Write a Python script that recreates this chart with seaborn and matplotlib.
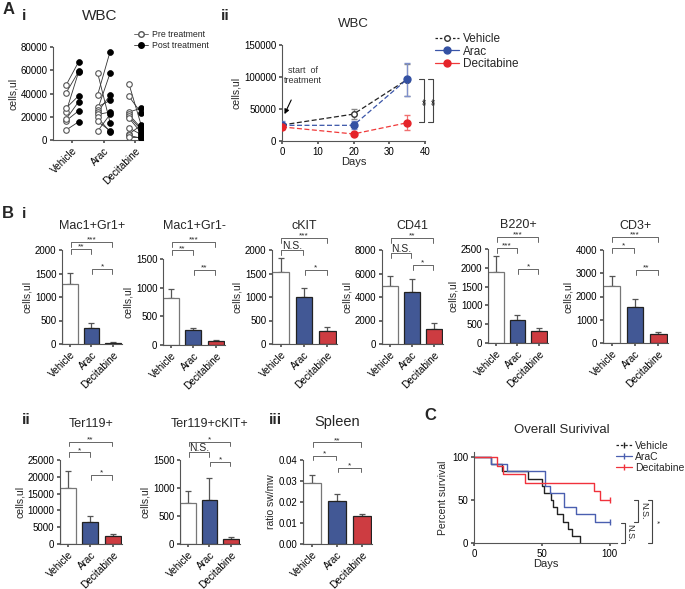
import numpy as np
import pandas as pd
import matplotlib
matplotlib.use("Agg")
import matplotlib.pyplot as plt
import seaborn as sns
from matplotlib.lines import Line2D

sns.set_theme(style="ticks")
plt.rcParams['font.family'] = ['Liberation Sans', 'DejaVu Sans']
plt.rcParams['axes.linewidth'] = 0.8
plt.rcParams['axes.edgecolor'] = '#555555'
plt.rcParams['xtick.color'] = '#555555'
plt.rcParams['ytick.color'] = '#555555'
plt.rcParams['xtick.labelcolor'] = 'black'
plt.rcParams['ytick.labelcolor'] = 'black'
plt.rcParams['xtick.major.size'] = 2.5
plt.rcParams['ytick.major.size'] = 2.5
plt.rcParams['xtick.major.pad'] = 1.5
plt.rcParams['ytick.major.pad'] = 1.5

# ---------------- data ----------------
groups = ["Vehicle", "Arac", "Decitabine"]
bar_colors = ["white", "#3451A3", "#E5242A"]

# A i: paired WBC, pre vs post treatment
veh_pre = [8600, 16600, 18100, 24400, 27500, 40700, 47300]
veh_post = [15700, 25200, 33000, 58800, 38100, 59000, 67400]
arac_pre = [58000, 38500, 28500, 26000, 24000, 22000, 19500, 16000, 7500]
arac_post = [15000, 76000, 34000, 57500, 38500, 24000, 7000, 8000, 22000]
dec_pre = [48500, 37500, 24000, 22000, 20500, 19000, 10500, 5000, 4000, 3000]
dec_post = [12000, 23000, 27500, 10000, 8500, 6000, 4500, 13000, 1500, 3000]

# A ii: WBC over time
days = [0, 20, 35]
wbc_veh = [25000, 42000, 96000]
wbc_veh_err = [3000, 7500, 25000]
wbc_arac = [24500, 24500, 96500]
wbc_arac_err = [6000, 6000, 26000]
wbc_dec = [22000, 11000, 28500]
wbc_dec_err = [3000, 2000, 11500]

# B: bar panels (mean, upper error)
mac_pos = [1280, 340, 20]
mac_pos_err = [240, 110, 12]
mac_neg = [820, 255, 65]
mac_neg_err = [160, 45, 15]
ckit = [1530, 990, 270]
ckit_err = [310, 200, 100]
cd41 = [4950, 4450, 1250]
cd41_err = [800, 1050, 500]
b220 = [1880, 620, 310]
b220_err = [440, 120, 80]
cd3 = [2450, 1560, 390]
cd3_err = [420, 350, 70]
ter119 = [16800, 6500, 2300]
ter119_err = [4800, 1700, 600]
ter119_ckit = [730, 790, 85]
ter119_ckit_err = [210, 380, 40]
spleen = [0.0290, 0.0203, 0.0133]
spleen_err = [0.0037, 0.0034, 0.0010]

# significance labels: (Vehicle-Decitabine, Vehicle-Arac, Arac-Decitabine)
sig_mac_pos = ["***", "**", "*"]
sig_mac_neg = ["***", "**", "**"]
sig_ckit = ["***", "N.S.", "*"]
sig_cd41 = ["**", "N.S.", "*"]
sig_b220 = ["***", "***", "*"]
sig_cd3 = ["***", "*", "**"]
sig_ter119 = ["**", "*", "*"]
sig_ter119_ckit = ["*", "N.S.", "*"]
sig_spleen = ["**", "*", "*"]

# C: survival curves (step times, percent survival)
surv_days_veh = [0, 12.3, 20.4, 40, 50, 51.7, 57, 58.5, 61, 66, 69, 72, 78]
surv_veh = [100, 91.7, 83.3, 75, 66.7, 58.3, 50, 41.7, 33.3, 25, 16.7, 8.3, 0]
surv_days_arac = [0, 12.3, 24.6, 52.5, 56, 66.7, 75.4, 89.4, 100]
surv_arac = [100, 91.7, 83.3, 66.7, 58.3, 41.7, 33.3, 25, 25]
surv_days_dec = [0, 17.2, 21.2, 37.7, 88.9, 93.1, 100]
surv_dec = [100, 90, 80, 70, 60, 50, 50]

# ---------------- figure ----------------
W, H = 685, 589
fig = plt.figure(figsize=(W / 100, H / 100), dpi=100)


def add_ax(x0, y0, x1, y1):
    a = fig.add_axes([x0 / W, 1 - y1 / H, (x1 - x0) / W, (y1 - y0) / H])
    sns.despine(ax=a)
    a.tick_params(labelsize=7)
    return a


def ftext(x, y, s, **kw):
    fig.text(x / W, 1 - y / H, s, ha='center', va='center', **kw)


def rot_labels(ax, labels, fs=7.2):
    ax.set_xticks(range(len(labels)))
    ax.set_xticklabels(labels, rotation=45, ha='right', rotation_mode='anchor', fontsize=fs)


def bracket(ax, i, j, y, label, leg=0.055):
    tr = ax.get_xaxis_transform()
    ax.plot([i + 0.03, i + 0.03, j - 0.03, j - 0.03], [y - leg, y, y, y - leg],
            color='#666666', lw=0.7, transform=tr, clip_on=False)
    if label == "N.S.":
        ax.text((i + j) / 2, y - 0.01, label, ha='center', va='bottom', fontsize=7.5,
                transform=tr, clip_on=False)
    else:
        ax.text((i + j) / 2, y + 0.005, label, ha='center', va='baseline', fontsize=6,
                transform=tr, clip_on=False)


def bar_panel(box, means, errs, ylim, yticks, sig, levels, title, title_y,
              ylabel="cells,ul", yfmt=None, tfs=9):
    ax = add_ax(*box)
    df = pd.DataFrame({"group": groups, "value": means})
    sns.barplot(data=df, x="group", y="value", hue="group", palette=bar_colors,
                legend=False, width=0.72, edgecolor="#222222", linewidth=0.9,
                errorbar=None, ax=ax)
    ax.patches[0].set_edgecolor('#777777')
    ax.errorbar(range(3), means, yerr=[np.zeros(3), errs], fmt='none',
                ecolor='#555555', elinewidth=0.9, capsize=2.2, capthick=0.9, zorder=0)
    ax.set_xlim(-0.37, 2.42)
    ax.set_ylim(*ylim)
    ax.set_yticks(yticks)
    if yfmt:
        ax.set_yticklabels([yfmt.format(t) for t in yticks])
    rot_labels(ax, groups)
    ax.set_xlabel("")
    ax.set_ylabel(ylabel, fontsize=7.5, labelpad=2)
    bracket(ax, 0, 2, levels[0], sig[0])
    bracket(ax, 0, 1, levels[1], sig[1])
    bracket(ax, 1, 2, levels[2], sig[2])
    x0, y0, x1, y1 = box
    ftext((x0 + x1) / 2, title_y, title, fontsize=tfs)
    return ax


# ---- A i ----
ax = add_ax(53, 47, 143, 140)
pairs = [(veh_pre, veh_post), (arac_pre, arac_post), (dec_pre, dec_post)]
for i, (pre, post) in enumerate(pairs):
    for a, b in zip(pre, post):
        ax.plot([i - 0.2, i + 0.2], [a, b], color='#333333', lw=0.6, zorder=1)
    sns.scatterplot(x=np.full(len(pre), i - 0.2), y=pre, ax=ax, marker='o', s=16,
                    color='white', edgecolor='#555555', linewidth=0.8, zorder=3)
    sns.scatterplot(x=np.full(len(post), i + 0.2), y=post, ax=ax, marker='o', s=18,
                    color='black', edgecolor='black', linewidth=0.5, zorder=3)
ax.set_xlim(-0.62, 2.25)
ax.set_ylim(0, 80000)
ax.set_yticks([0, 20000, 40000, 60000, 80000])
rot_labels(ax, groups)
ax.set_ylabel("cells,ul", fontsize=7.5, labelpad=2)
ftext(100, 16, "WBC", fontsize=11)
h_a1 = [Line2D([0], [0], color='#555555', lw=0.6, marker='o', ms=4, mfc='white', mec='#555555'),
        Line2D([0], [0], color='#333333', lw=0.6, marker='o', ms=4, mfc='black', mec='black')]
ax.legend(h_a1, ["Pre treatment", "Post treatment"], loc='upper left',
          bbox_to_anchor=(134 / W, 1 - 30 / H), bbox_transform=fig.transFigure,
          frameon=False, fontsize=6.3, handlelength=1.6, handletextpad=0.5,
          labelspacing=0.25, borderaxespad=0, borderpad=0)

# ---- A ii ----
ax = add_ax(282, 45, 425, 141)
ax.errorbar(days, wbc_veh, yerr=wbc_veh_err, color='#222222', ls=(0, (4, 2)), lw=0.9,
            marker='o', ms=4, mfc='white', mec='#333333', ecolor='#888888',
            elinewidth=0.9, capsize=2.5, zorder=3)
ax.errorbar(days, wbc_arac, yerr=wbc_arac_err, color='#3A55A8', ls=(0, (4, 2)), lw=0.9,
            marker='o', ms=5, mfc='#3451A3', mec='#3451A3', ecolor='#7F90CC',
            elinewidth=0.9, capsize=2.5, zorder=4)
ax.errorbar(days, wbc_dec, yerr=wbc_dec_err, color='#F03A3A', ls=(0, (4, 2)), lw=0.9,
            marker='o', ms=5, mfc='#E5242A', mec='#E5242A', ecolor='#F07070',
            elinewidth=0.9, capsize=2.5, zorder=5)
ax.set_xlim(0, 40)
ax.set_ylim(0, 150000)
ax.set_xticks([0, 10, 20, 30, 40])
ax.set_yticks([0, 50000, 100000, 150000])
ax.set_xlabel("Days", fontsize=8, labelpad=0)
ax.set_ylabel("cells,ul", fontsize=7.5, labelpad=2)
ax.annotate("start  of\ntreatment", xy=(0.7, 42000), xytext=(5.8, 102000),
            ha='center', va='center', fontsize=6.5, color='#333333',
            arrowprops=dict(arrowstyle='-|>', color='black', lw=0.8, mutation_scale=7,
                            shrinkA=9, shrinkB=0))
for xv, xl, xt in [(39.7, 38.3, 40.6), (42.1, 40.8, 43.0)]:
    ax.plot([xl, xv, xv, xl], [96400, 96400, 29700, 29700], color='#444444', lw=0.8,
            clip_on=False)
    ax.text(xt, 63000, "**", rotation=90, ha='center', va='center', fontsize=7,
            clip_on=False)
ftext(353, 24, "WBC", fontsize=9.5)
h_a2 = [Line2D([0], [0], color='#222222', ls=(0, (2, 1.5)), lw=0.9, marker='o', ms=4,
               mfc='white', mec='#333333'),
        Line2D([0], [0], color='#3A55A8', lw=0.9, marker='o', ms=5, mfc='#3451A3',
               mec='#3451A3'),
        Line2D([0], [0], color='#F03A3A', lw=0.9, marker='o', ms=5, mfc='#E5242A',
               mec='#E5242A')]
ax.legend(h_a2, groups, loc='upper left', bbox_to_anchor=(435 / W, 1 - 33 / H),
          bbox_transform=fig.transFigure, frameon=False, fontsize=8.5,
          handlelength=2.0, handletextpad=0.4, labelspacing=0.05, borderaxespad=0,
          borderpad=0)

# ---- B i ----
bar_panel((62, 250, 122, 344), mac_pos, mac_pos_err, (0, 2000), [0, 500, 1000, 1500, 2000],
          sig_mac_pos, (1.09, 1.01, 0.80), "Mac1+Gr1+", 226)
bar_panel((163, 259, 225, 345), mac_neg, mac_neg_err, (0, 1500), [0, 500, 1000, 1500],
          sig_mac_neg, (1.20, 1.10, 0.87), "Mac1+Gr1-", 226)
bar_panel((272, 250, 337, 344), ckit, ckit_err, (0, 2000), [0, 500, 1000, 1500, 2000],
          sig_ckit, (1.13, 1.0, 0.79), "cKIT", 226)
bar_panel((382, 250, 443, 344), cd41, cd41_err, (0, 8000), [0, 2000, 4000, 6000, 8000],
          sig_cd41, (1.13, 0.97, 0.84), "CD41", 226)
bar_panel((488, 249, 548, 343), b220, b220_err, (0, 2500), [0, 500, 1000, 1500, 2000, 2500],
          sig_b220, (1.13, 1.01, 0.79), "B220+", 225)
bar_panel((603, 250, 668, 343), cd3, cd3_err, (0, 4000), [0, 1000, 2000, 3000, 4000],
          sig_cd3, (1.14, 1.02, 0.79), "CD3+", 226)

# ---- B ii / iii ----
bar_panel((60, 460, 122, 544), ter119, ter119_err, (0, 25000),
          [0, 5000, 10000, 15000, 20000, 25000], sig_ter119, (1.22, 1.09, 0.82),
          "Ter119+", 424)
bar_panel((180, 460, 240, 544), ter119_ckit, ter119_ckit_err, (0, 1500), [0, 500, 1000, 1500],
          sig_ter119_ckit, (1.22, 1.09, 0.98), "Ter119+cKIT+", 424)
bar_panel((303, 460, 372, 544), spleen, spleen_err, (0, 0.04),
          [0.0, 0.01, 0.02, 0.03, 0.04], sig_spleen, (1.21, 1.05, 0.91), "Spleen", 422,
          ylabel="ratio sw/mw", yfmt="{:.2f}", tfs=10.5)

# ---- C ----
ax = add_ax(474, 452, 617, 543)
ax.step(surv_days_veh, surv_veh, where='post', color='#222222', lw=1.0)
ax.step(surv_days_arac, surv_arac, where='post', color='#4A5FB0', lw=1.0)
ax.step(surv_days_dec, surv_dec, where='post', color='#F0323C', lw=1.0)
ax.plot([100], [25], marker='|', ms=5, color='#4A5FB0')
ax.plot([100], [50], marker='|', ms=5, color='#F0323C')
ax.set_xlim(0, 105.5)
ax.set_ylim(0, 106)
ax.set_xticks([0, 50, 100])
ax.set_yticks([0, 50, 100])
ax.set_xlabel("Days", fontsize=8, labelpad=0)
ax.set_ylabel("Percent survival", fontsize=7.5, labelpad=3)
for xv, y0, y1, lab, xt, fs in [(121, 50, 25, "N.S.", 125, 6.5),
                                (111.6, 23, 0, "N.S.", 115, 6.5),
                                (131.6, 50, 0, "*", 134, 6)]:
    ax.plot([xv - 3, xv, xv, xv - 3], [y0, y0, y1, y1], color='#444444', lw=0.8,
            clip_on=False)
    ax.text(xt, (y0 + y1) / 2, lab, rotation=270, ha='center', va='center',
            fontsize=fs, clip_on=False)
ftext(562, 430, "Overall Surivival", fontsize=9.5)
h_c = [Line2D([0], [0], color='#222222', ls=(0, (2, 1.5)), lw=0.9, marker='|', ms=4),
       Line2D([0], [0], color='#4A5FB0', lw=0.9, marker='|', ms=4),
       Line2D([0], [0], color='#F0323C', lw=0.9, marker='|', ms=4)]
ax.legend(h_c, ["Vehicle", "AraC", "Decitabine"], loc='upper left',
          bbox_to_anchor=(616 / W, 1 - 441 / H), bbox_transform=fig.transFigure,
          frameon=False, fontsize=7.5, handlelength=1.5, handletextpad=0.3,
          labelspacing=0.1, borderaxespad=0, borderpad=0)

# ---- panel letters ----
ftext(9, 10, "A", fontsize=12, fontweight='bold')
ftext(24, 16, "i", fontsize=11, fontweight='bold')
ftext(225, 16, "ii", fontsize=11, fontweight='bold')
ftext(8, 213, "B", fontsize=12, fontweight='bold')
ftext(24, 214, "i", fontsize=11, fontweight='bold')
ftext(26, 420, "ii", fontsize=11, fontweight='bold')
ftext(275, 420, "iii", fontsize=11, fontweight='bold')
ftext(430, 415, "C", fontsize=12, fontweight='bold')

fig.savefig("out.png", dpi=100)
